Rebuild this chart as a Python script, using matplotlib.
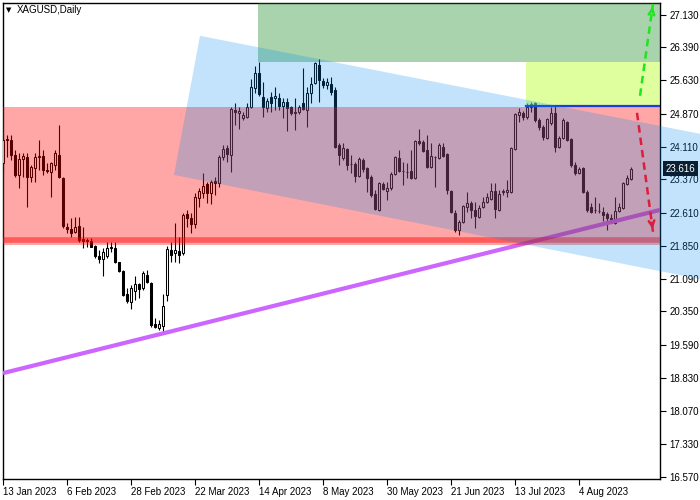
import matplotlib
matplotlib.use("Agg")
import matplotlib.pyplot as plt
from matplotlib.patches import Rectangle, Polygon

# daily XAGUSD candles, 13 Jan 2023 .. 23 Aug 2023 (bar index 0..157)
opens = [23.74, 24.27, 24.27, 23.93, 23.47, 23.83, 23.88, 23.42, 23.63, 23.88,
         23.90, 23.58, 23.54, 23.70, 23.93, 23.40, 22.28, 22.23, 22.17, 22.30,
         22.01, 21.98, 21.96, 21.85, 21.62, 21.55, 21.62, 21.80, 21.80, 21.48,
         21.27, 20.75, 20.57, 20.82, 20.98, 20.89, 21.18, 21.00, 20.06, 19.97,
         20.02, 20.73, 21.75, 21.69, 21.73, 21.69, 22.58, 22.49, 22.35, 22.94,
         23.06, 23.26, 23.06, 23.33, 23.29, 23.88, 24.09, 23.93, 24.95, 24.89,
         24.77, 24.80, 25.02, 25.46, 25.80, 25.25, 25.00, 25.25, 25.23, 25.23,
         25.05, 25.14, 25.02, 24.89, 24.91, 25.12, 24.95, 25.34, 25.57, 25.98,
         25.62, 25.53, 25.55, 25.41, 24.15, 23.86, 24.06, 23.72, 23.72, 23.45,
         23.81, 23.63, 23.42, 23.03, 22.67, 23.26, 23.10, 23.17, 23.49, 23.86,
         23.56, 23.54, 23.56, 23.40, 24.25, 24.22, 24.04, 23.65, 23.88, 23.86,
         24.11, 23.95, 23.10, 22.60, 22.21, 22.39, 22.74, 22.83, 22.67, 22.51,
         22.74, 22.85, 22.92, 23.10, 22.67, 23.08, 23.08, 23.08, 24.06, 24.84,
         24.89, 24.80, 25.02, 25.12, 24.73, 24.57, 24.31, 24.66, 24.89, 24.11,
         24.31, 24.68, 24.29, 23.70, 23.51, 23.63, 23.08, 22.74, 22.67, 22.65,
         22.62, 22.58, 22.49, 22.37, 22.65, 22.71, 23.26, 23.38]
highs = [24.34, 24.38, 24.38, 24.04, 23.97, 23.97, 23.97, 23.70, 23.97, 24.27,
         24.04, 23.74, 23.77, 24.04, 24.61, 23.42, 22.37, 22.49, 22.51, 22.51,
         22.28, 22.03, 22.03, 21.87, 21.75, 21.80, 21.94, 21.94, 21.94, 21.48,
         21.30, 20.89, 20.95, 21.16, 21.00, 21.27, 21.30, 21.02, 20.20, 20.15,
         20.75, 21.85, 21.94, 22.37, 22.05, 22.60, 22.67, 22.60, 23.06, 23.17,
         23.51, 23.31, 23.35, 23.42, 23.93, 24.15, 24.15, 25.02, 25.12, 25.02,
         24.91, 25.12, 25.66, 25.96, 26.05, 25.59, 25.23, 25.37, 25.48, 25.34,
         25.23, 25.23, 25.05, 25.23, 25.07, 25.91, 25.48, 25.71, 26.05, 26.12,
         25.69, 25.69, 25.71, 25.48, 24.20, 24.20, 24.09, 23.93, 23.77, 23.88,
         23.86, 23.65, 23.47, 23.13, 23.31, 23.31, 23.31, 23.54, 23.90, 24.04,
         23.77, 23.74, 24.04, 24.27, 24.52, 24.27, 24.38, 24.20, 23.90, 24.20,
         24.20, 23.97, 23.13, 22.67, 22.44, 22.78, 23.08, 22.87, 22.85, 22.78,
         22.97, 23.06, 23.29, 23.29, 23.13, 23.15, 23.35, 24.11, 24.89, 25.00,
         24.93, 25.12, 25.14, 25.14, 24.77, 24.61, 24.77, 25.02, 25.07, 24.36,
         24.77, 24.70, 24.31, 23.77, 23.65, 23.65, 23.13, 22.83, 22.97, 22.83,
         22.74, 22.62, 22.58, 22.97, 22.83, 23.31, 23.47, 23.65]
lows = [23.51, 23.88, 23.81, 23.42, 23.17, 23.42, 22.74, 23.31, 23.31, 23.58,
        23.47, 23.51, 22.97, 23.58, 23.40, 22.26, 22.14, 22.05, 22.14, 21.94,
        21.80, 21.82, 21.82, 21.57, 21.46, 21.16, 21.57, 21.71, 21.46, 21.25,
        20.70, 20.54, 20.41, 20.61, 20.66, 20.84, 21.00, 20.00, 19.97, 19.93,
        19.88, 20.59, 21.48, 21.48, 21.46, 21.64, 22.28, 22.14, 22.26, 22.74,
        22.94, 22.83, 22.81, 23.01, 23.19, 23.81, 23.77, 23.54, 24.61, 24.52,
        24.73, 24.77, 25.00, 25.34, 25.28, 24.80, 24.91, 24.91, 24.95, 24.95,
        24.77, 24.48, 24.84, 24.50, 24.86, 24.95, 24.57, 25.12, 25.55, 25.14,
        25.46, 25.43, 25.30, 24.09, 23.70, 23.81, 23.58, 23.51, 23.31, 23.42,
        23.54, 23.08, 22.97, 22.67, 22.65, 23.13, 22.90, 23.13, 23.47, 23.54,
        23.24, 23.40, 23.38, 23.38, 24.15, 23.99, 23.63, 23.63, 23.19, 23.83,
        23.88, 23.03, 22.60, 22.17, 22.10, 22.37, 22.62, 22.49, 22.26, 22.49,
        22.71, 22.83, 22.90, 22.49, 22.65, 23.01, 22.97, 23.06, 24.04, 24.68,
        24.73, 24.75, 24.91, 24.68, 24.50, 24.27, 24.29, 24.61, 23.99, 24.09,
        24.29, 24.25, 23.65, 23.47, 23.49, 23.06, 22.62, 22.60, 22.60, 22.60,
        22.42, 22.21, 22.37, 22.35, 22.62, 22.69, 23.24, 23.35]
closes = [24.27, 24.29, 23.93, 23.47, 23.83, 23.90, 23.42, 23.65, 23.88, 23.90,
          23.58, 23.56, 23.74, 23.97, 23.42, 22.30, 22.23, 22.14, 22.28, 21.98,
          21.96, 21.97, 21.82, 21.62, 21.55, 21.71, 21.80, 21.82, 21.48, 21.27,
          20.73, 20.59, 20.89, 20.98, 20.86, 21.23, 21.02, 20.04, 20.00, 20.06,
          20.48, 21.78, 21.64, 21.75, 21.64, 22.56, 22.49, 22.35, 22.97, 23.10,
          23.22, 23.06, 23.31, 23.29, 23.88, 24.06, 23.95, 24.98, 24.91, 24.93,
          24.84, 25.02, 25.48, 25.80, 25.32, 25.02, 25.16, 25.12, 25.28, 25.05,
          25.14, 25.00, 24.89, 24.91, 25.02, 24.98, 25.34, 25.55, 26.03, 25.64,
          25.53, 25.59, 25.37, 24.11, 23.93, 24.09, 23.70, 23.71, 23.45, 23.83,
          23.61, 23.40, 23.01, 22.69, 23.29, 23.15, 23.17, 23.49, 23.88, 23.56,
          23.55, 23.53, 23.40, 24.25, 24.20, 24.02, 23.65, 23.90, 23.87, 24.15,
          23.90, 23.13, 22.62, 22.21, 22.39, 22.76, 22.83, 22.67, 22.53, 22.71,
          22.85, 22.97, 23.10, 22.69, 23.03, 23.10, 23.13, 24.09, 24.86, 24.91,
          24.80, 25.02, 25.09, 24.73, 24.57, 24.34, 24.75, 24.89, 24.11, 24.31,
          24.73, 24.27, 23.70, 23.51, 23.61, 23.08, 22.67, 22.62, 22.66, 22.64,
          22.56, 22.49, 22.37, 22.65, 22.74, 23.29, 23.40, 23.616]

date_ticks = [0, 16, 32, 48, 64, 80, 96, 112, 128, 144]
date_labels = ['13 Jan 2023', '6 Feb 2023', '28 Feb 2023', '22 Mar 2023', '14 Apr 2023',
               '8 May 2023', '30 May 2023', '21 Jun 2023', '13 Jul 2023', '4 Aug 2023']
price_ticks = [16.57, 17.33, 18.07, 18.83, 19.59, 20.35, 21.09, 21.85,
               22.61, 23.37, 24.11, 24.87, 25.63, 26.39, 27.13]

# drawn objects (bar index, price)
red_zone = [21.87, 25.03]
red_level = 21.98
green_zone = [63.75, 26.05, 27.6]
yellow_zone = [130.75, 25.05, 26.05]
blue_level = 25.05
channel_x = [49.25, 174.25, 174.25, 42.75]
channel_y = [26.65, 24.41, 21.09, 23.47]
trend_x = [0, 164.25]
trend_y = [18.94, 22.67]
down_arrow = [(158.5, 24.89), (162.5, 22.17)]
up_arrow = [(159.25, 25.28), (162.5, 27.38)]
last_price = 23.616

plt.rcParams['font.family'] = ['Liberation Sans', 'DejaVu Sans']

fig = plt.figure(figsize=(7, 5), dpi=100)
ax = fig.add_axes([2.5 / 700, 21 / 500, 657.5 / 700, 476 / 500])
x_right = 164.25
ax.set_xlim(-0.125, x_right)
ax.set_ylim(16.52, 27.40)

# candles
for i in range(len(closes)):
    o, h, l, c = opens[i], highs[i], lows[i], closes[i]
    ax.vlines(i, l, h, color='black', lw=0.8, zorder=2)
    bull = c >= o
    body = Rectangle((i - 0.3, min(o, c)), 0.6, max(abs(c - o), 0.012),
                     facecolor='white' if bull else 'black', edgecolor='black',
                     lw=0.75, zorder=3)
    ax.add_patch(body)

# trend line
ax.plot(trend_x, trend_y, color='#cc66ff', lw=3, solid_capstyle='butt', zorder=4)

# zones
ax.axhspan(red_zone[0], red_zone[1], color='#ff0000', alpha=0.35, lw=0, zorder=5)
ax.axhline(red_level, color='#ff0000', alpha=0.45, lw=4, zorder=5)
ax.add_patch(Rectangle((green_zone[0], green_zone[1]), x_right - green_zone[0],
                       green_zone[2] - green_zone[1], facecolor='#008010',
                       alpha=0.34, lw=0, zorder=5))
ax.add_patch(Rectangle((yellow_zone[0], yellow_zone[1]), x_right - yellow_zone[0],
                       yellow_zone[2] - yellow_zone[1], facecolor='#c0ff40',
                       alpha=0.5, lw=0, zorder=5))
ax.plot([yellow_zone[0], x_right], [blue_level, blue_level], color='#1a3ce6',
        lw=1.6, zorder=6)
ax.add_patch(Polygon(list(zip(channel_x, channel_y)), closed=True,
                     facecolor=(0, 141 / 255, 242 / 255), alpha=0.24, lw=0,
                     zorder=7, clip_on=False))

# arrows
for (a, b), col in [(down_arrow, '#dc1e3c'), (up_arrow, '#1ee61e')]:
    ax.plot([a[0], b[0]], [a[1], b[1]], color=col, lw=1.8, ls=(0, (3, 2)), zorder=8)
    ax.annotate('', xy=b, xytext=(a[0] + (b[0] - a[0]) * 0.9, a[1] + (b[1] - a[1]) * 0.9),
                arrowprops=dict(arrowstyle='->', color=col, lw=1.8,
                                mutation_scale=10), zorder=8)

# axes styling
for side in ['top', 'left']:
    ax.spines[side].set_linewidth(1)
ax.spines['right'].set_linewidth(1)
ax.spines['bottom'].set_linewidth(1)
ax.yaxis.tick_right()
ax.set_yticks(price_ticks)
ax.set_yticklabels(['%.3f' % p for p in price_ticks], fontsize=7)
ax.tick_params(axis='y', length=4, width=0.8, pad=3)
ax.set_xticks(date_ticks)
ax.set_xticklabels(date_labels, fontsize=7, ha='left')
ax.tick_params(axis='x', length=4, width=0.8, pad=2)
for lab in ax.get_xticklabels():
    lab.set_x(0)

ax.annotate('%.3f' % last_price, xy=(1.0, last_price), xycoords=('axes fraction', 'data'),
            xytext=(4, 0), textcoords='offset points', ha='left', va='center',
            fontsize=7, color='white', zorder=10,
            bbox=dict(boxstyle='square,pad=0.25', fc='#0a1e32', ec='none'))

fig.text(6 / 700, 1 - 10 / 500, '\u25bc', fontsize=5, va='center',
         family=['DejaVu Sans'])
fig.text(17 / 700, 1 - 10 / 500, 'XAGUSD,Daily', fontsize=7, va='center')

fig.savefig('out.png', dpi=100)
